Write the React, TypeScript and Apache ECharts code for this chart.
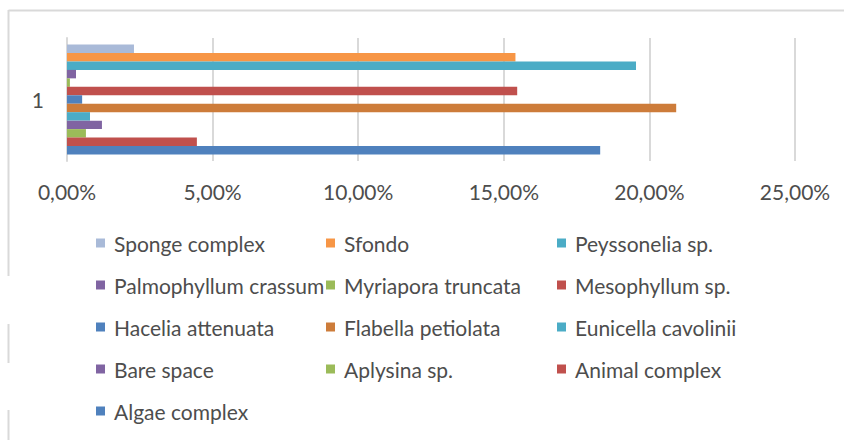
import React, { useEffect, useRef } from "react";
import * as echarts from "echarts";

const categories = ["1"];

// series listed from top bar to bottom bar
const seriesNames = [
  "Sponge complex",
  "Sfondo",
  "Peyssonelia sp.",
  "Palmophyllum crassum",
  "Myriapora truncata",
  "Mesophyllum sp.",
  "Hacelia attenuata",
  "Flabella petiolata",
  "Eunicella cavolinii",
  "Bare space",
  "Aplysina sp.",
  "Animal complex",
  "Algae complex",
];

const seriesValues = [
  0.023, 0.154, 0.1954, 0.0031, 0.001, 0.1546, 0.0052, 0.2092, 0.0079, 0.012,
  0.0065, 0.0446, 0.1831,
];

const seriesColors = [
  "#A9BAD8",
  "#F79646",
  "#4BACC6",
  "#8064A2",
  "#9BBB59",
  "#C0504D",
  "#4F81BD",
  "#CD7C3A",
  "#4BACC6",
  "#8064A2",
  "#9BBB59",
  "#C0504D",
  "#4F81BD",
];

const legendColumn1 = ["Sponge complex", "Palmophyllum crassum", "Hacelia attenuata", "Bare space", "Algae complex"];
const legendColumn2 = ["Sfondo", "Myriapora truncata", "Flabella petiolata", "Aplysina sp."];
const legendColumn3 = ["Peyssonelia sp.", "Mesophyllum sp.", "Eunicella cavolinii", "Animal complex"];

const axisMin = 0;
const axisMax = 0.25;
const axisInterval = 0.05;

const FONT = "Lato";
const TEXT = "#4D4D4D";
const GRID = "#D9D9D9";

export default function App() {
  const ref = useRef<HTMLDivElement>(null);

  useEffect(() => {
    if (!ref.current) return;
    const chart = echarts.init(ref.current, undefined, { renderer: "svg" });

    const legendBase = (left: number, data: string[]) => ({
      orient: "vertical",
      left,
      top: 232,
      padding: 0,
      itemGap: 20,
      itemWidth: 9,
      itemHeight: 9,
      icon: "rect",
      data,
      textStyle: {
        fontFamily: FONT,
        fontSize: 21,
        color: TEXT,
        lineHeight: 22,
        padding: [0, 0, 0, 4],
      },
    });

    chart.setOption({
      animation: false,
      textStyle: { fontFamily: FONT },
      grid: { left: 67, right: 49, top: 38, bottom: 279, containLabel: false },
      xAxis: {
        type: "value",
        min: axisMin,
        max: axisMax,
        interval: axisInterval,
        axisLine: { show: false },
        axisTick: { show: false },
        splitLine: { show: true, lineStyle: { color: GRID, width: 2 } },
        axisLabel: {
          fontFamily: FONT,
          fontSize: 21,
          color: TEXT,
          margin: 20,
          formatter: (v: number) => (v * 100).toFixed(2).replace(".", ",") + "%",
        },
      },
      yAxis: {
        type: "category",
        data: categories,
        axisLine: { show: true, lineStyle: { color: GRID, width: 2 } },
        axisTick: { show: false },
        axisLabel: { fontFamily: FONT, fontSize: 21, color: TEXT, margin: 23 },
      },
      legend: [
        legendBase(96, legendColumn1),
        legendBase(326, legendColumn2),
        legendBase(557, legendColumn3),
      ],
      series: seriesNames.map((name, i) => ({
        name,
        type: "bar",
        data: [seriesValues[i]],
        itemStyle: { color: seriesColors[i] },
        barGap: "0%",
        barCategoryGap: "10.6%",
      })),
      graphic: [
        { type: "line", shape: { x1: 8.5, y1: 10.5, x2: 844, y2: 10.5 }, style: { stroke: GRID, lineWidth: 2 } },
        { type: "line", shape: { x1: 8.5, y1: 10, x2: 8.5, y2: 276 }, style: { stroke: GRID, lineWidth: 2 } },
        { type: "line", shape: { x1: 8.5, y1: 324, x2: 8.5, y2: 363 }, style: { stroke: GRID, lineWidth: 2 } },
        { type: "line", shape: { x1: 8.5, y1: 410, x2: 8.5, y2: 440 }, style: { stroke: GRID, lineWidth: 2 } },
      ],
    });

    return () => chart.dispose();
  }, []);

  return (
    <div style={{ position: "fixed", left: 0, top: 0, width: 844, height: 440, background: "#fff" }}>
      <div ref={ref} style={{ width: 844, height: 440 }} />
    </div>
  );
}
